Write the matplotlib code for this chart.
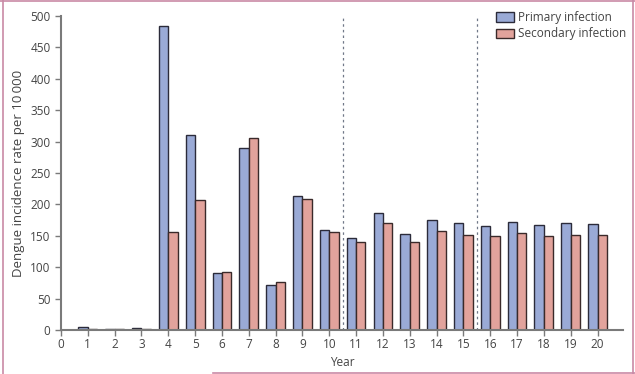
import numpy as np
import matplotlib.pyplot as plt
from matplotlib.patches import Patch
from matplotlib.lines import Line2D

plt.rcParams['font.family'] = ['Open Sans', 'DejaVu Sans']

years = list(range(1, 21))
primary = [4, 1, 3, 484, 310, 90, 290, 71, 213, 159, 147, 187, 153, 175, 170, 166, 172, 167, 170, 169]
secondary = [1, 1, 1, 156, 207, 92, 305, 77, 209, 156, 140, 171, 140, 157, 152, 149, 155, 150, 152, 152]
dividers = [10.5, 15.5]

blue = '#9aaad6'
red = '#e2a39c'
edge = '#2b2b3a'
grey = '#7a7a7a'
txt = '#444444'

fig = plt.figure(figsize=(6.35, 3.74), dpi=100)
ax = fig.add_axes([61 / 635, 44 / 374, 562 / 635, 314 / 374])

x = np.array(years)
w = 0.35
ax.bar(x - w / 2, primary, width=w, color=blue, edgecolor=edge, linewidth=1.0, label='Primary infection')
ax.bar(x + w / 2, secondary, width=w, color=red, edgecolor='#3a2a2a', linewidth=1.0, label='Secondary infection')

for d in dividers:
    ax.plot([d, d], [0, 500], color='#707888', linestyle=(0, (2, 2.5)), linewidth=0.9, zorder=0)

ax.set_xlim(0, 20.95)
ax.set_ylim(0, 500)
ax.set_xticks(range(0, 21))
ax.set_yticks(range(0, 501, 50))
for s in ['top', 'right']:
    ax.spines[s].set_visible(False)
for s in ['left', 'bottom']:
    ax.spines[s].set_color(grey)
    ax.spines[s].set_linewidth(1.5)
ax.tick_params(axis='both', colors=grey, labelcolor=txt, labelsize=8.5, length=4, width=1)
ax.tick_params(axis='x', pad=2)

ax.set_xlabel('Year', fontsize=8.5, color=txt, labelpad=3)
ax.set_ylabel('Dengue incidence rate per 10\u2009000', fontsize=9.5, color=txt, labelpad=4)

handles = [Patch(facecolor=blue, edgecolor=edge), Patch(facecolor=red, edgecolor='#3a2a2a')]
ax.legend(handles, ['Primary infection', 'Secondary infection'], loc='upper right',
          bbox_to_anchor=(1.024, 1.05), frameon=False, fontsize=8.5, labelcolor=txt,
          handlelength=1.5, handleheight=0.85, handletextpad=0.3, labelspacing=0.3)

# pink frame around the figure
pink = '#c98aa6'
fig.add_artist(Line2D([0.004, 0.004], [0, 1], color=pink, lw=1.2, transform=fig.transFigure))
fig.add_artist(Line2D([0, 1], [0.998, 0.998], color=pink, lw=1.2, transform=fig.transFigure))
fig.add_artist(Line2D([0.997, 0.997], [0, 1], color=pink, lw=1.2, transform=fig.transFigure))
fig.add_artist(Line2D([213 / 635, 1], [0.004, 0.004], color=pink, lw=1.2, transform=fig.transFigure))

fig.savefig('out.png', dpi=100)
